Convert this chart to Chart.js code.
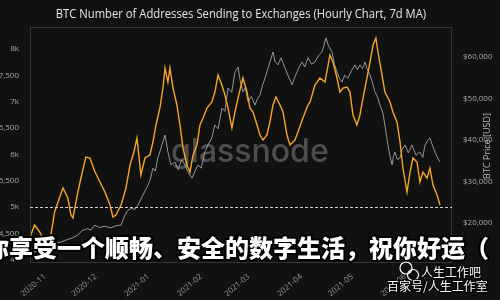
<!DOCTYPE html>
<html>
<head>
<meta charset="utf-8">
<script src="https://cdn.jsdelivr.net/npm/chart.js@4.4.1/dist/chart.umd.min.js"></script>
<style>
  html, body { margin: 0; padding: 0; background: #111; }
  #chart { display: block; }
</style>
</head>
<body>
<canvas id="chart" width="500" height="300"></canvas>
<script>
// x values are days counted from 2020-11-01
const monthDays = [0, 30, 61, 92, 120, 151, 181, 212];
const monthLabels = ['2020-11', '2020-12', '2021-01', '2021-02', '2021-03', '2021-04', '2021-05', '2021-06'];

// Number of addresses sending to exchanges (7d MA)
const addrDays = [-9.0, -6.1, -3.1, -0.6, 1.8, 3.5, 5.7, 7.7, 10.6, 13.5, 15.3, 16.5, 19.4, 21.2, 24.1, 26.5,
  29.5, 32.4, 35.3, 38.3, 40.0, 41.8, 44.8, 47.7, 50.1, 52.4, 54.2, 56.5, 58.9, 61.8, 63.6, 65.4, 67.7, 69.5,
  70.7, 72.4, 73.6, 75.4, 77.7, 79.5, 81.3, 83.6, 85.4, 87.2, 89.5, 91.3, 93.1, 95.4, 98.3, 100.1, 101.9,
  104.2, 106.0, 107.8, 110.1, 111.9, 113.7, 116.6, 119.0, 120.7, 122.5, 124.9, 126.6, 128.4, 130.7, 132.5,
  134.3, 136.0, 138.4, 140.2, 142.5, 144.3, 147.2, 149.0, 151.9, 154.9, 156.1, 159.0, 161.9, 164.9, 167.8,
  169.6, 172.0, 173.7, 175.5, 177.9, 179.6, 181.4, 183.7, 185.5, 187.3, 189.6, 191.4, 193.2, 194.9, 196.1,
  198.5, 200.2, 203.2, 204.9, 207.3, 209.1, 210.8, 213.2, 215.0, 216.7, 219.1, 220.8, 222.6, 225.0, 226.7,
  228.5, 230.9, 232.6];
const addrValues = [4411, 4658, 4525, 4373, 4278, 4468, 4905, 5095, 5360, 5170, 4848, 4791, 5284, 5550, 5949, 5930,
  5664, 5474, 5284, 5038, 4810, 4848, 5038, 5360, 5797, 6044, 6310, 5607, 5930, 5987, 6234, 6557, 6880, 7259,
  7639, 7373, 7639, 7259, 6937, 6557, 6120, 5797, 5664, 5987, 6177, 6557, 6690, 6880, 6994, 7183, 7506,
  7316, 7126, 6880, 6500, 6804, 7070, 7449, 7183, 6880, 6804, 6557, 6367, 6272, 6367, 6614,
  6937, 7088, 6937, 6804, 6367, 6177, 6272, 6424, 6690, 6937, 6994, 7316, 7449, 7373, 7886,
  7753, 7449, 7183, 7259, 7278, 7183, 6747, 6557, 6747, 7070, 7449, 7753, 8076, 8209, 7943,
  7506, 7183, 6994, 6804, 6614, 6234, 5740, 5284, 5664, 5930, 5854, 5474, 5664, 5550, 5740,
  5417, 5227, 5038];

// BTC price in USD
const priceDays = [-10.0, -7.0, -4.0, -1.5, 0, 3.0, 6.0, 9.4, 12.5, 16.0, 19.4, 22.0, 25.0, 27.0, 29.4, 32.0,
  35.0, 38.9, 41.5, 44.8, 47.1, 48.9, 51.0, 53.0, 54.8, 57.7, 60.7, 62.0, 63.6, 65.0, 66.5, 68.3, 70.7, 72.4,
  74.2, 76.6, 78.5, 80.5, 82.4, 84.5, 86.6, 88.5, 90.1, 92.0, 94.2, 96.0, 98.0, 100.1, 102.0, 104.2, 106.0,
  107.8, 110.0, 111.9, 113.7, 115.0, 116.6, 118.0, 119.6, 121.5, 123.7, 125.0, 126.6, 128.0, 129.6, 131.0,
  132.5, 134.3, 135.5, 137.2, 139.0, 141.3, 143.5, 145.5, 147.0, 148.4, 150.0, 151.4, 153.0, 154.9, 157.0,
  159.0, 161.0, 163.1, 164.5, 165.5, 167.0, 169.0, 170.5, 172.0, 173.5, 174.9, 176.5, 178.4, 180.5, 182.6,
  184.0, 185.5, 187.0, 188.5, 190.0, 191.4, 193.0, 194.3, 196.0, 197.3, 199.0, 200.2, 201.2, 202.0, 203.0,
  204.4, 205.2, 206.1, 207.5, 209.1, 210.5, 212.0, 214.0, 216.1, 218.5, 220.8, 222.5, 223.8, 225.5, 226.7,
  228.0, 229.7, 231.0, 232.6];
const priceValues = [13000, 13200, 13050, 13600, 13970, 14400, 15200, 15400, 15900, 16400, 17100, 18200, 18600, 18300, 19500, 18900,
  19200, 18800, 19300, 19500, 21900, 23100, 23500, 23300, 24300, 26700, 29100, 30500, 33200, 32500, 35700, 38000, 41200, 37100,
  34000, 34700, 32800, 35300, 34000, 32100, 30800, 32600, 34000, 33200, 37100, 38800, 40200, 43600, 42700, 47700, 46900,
  52500, 51500, 56400, 57600, 54200, 51600, 52600, 49200, 50500, 48400, 49800, 50800, 53000, 54900, 56800,
  58800, 61200, 58900, 58100, 59800, 57400, 55200, 53300, 55000, 56400, 57800, 58800, 57600, 59800, 58300,
  58800, 60300, 61200, 63100, 64600, 62600, 61200, 58200, 56400, 54800, 54000, 55600, 54900, 56700, 58100,
  57000, 58100, 57200, 58800, 56800, 55700, 53600, 51600, 50200, 48400, 46500, 43600, 40800, 38800, 36500,
  34000, 36000, 37100, 35300, 35700, 37800, 38800, 36900, 38800, 36300, 37100, 35800, 38800, 39900, 40500,
  38900, 37100, 35900, 34700];

const leftTicks = [4000, 4500, 5000, 5500, 6000, 6500, 7000, 7500, 8000];
const leftTickLabels = ['4k', '4,500', '5k', '5,500', '6k', '6,500', '7k', '7,500', '8k'];
const rightTicks = [20000, 30000, 40000, 50000, 60000];
const rightTickLabels = ['$20,000', '$30,000', '$40,000', '$50,000', '$60,000'];
const thresholdValue = 5000;

const titleText = 'BTC Number of Addresses Sending to Exchanges (Hourly Chart, 7d MA)';
const priceAxisTitle = 'BTC Price [USD]';
const overlayText = '你享受一个顺畅、安全的数字生活，祝你好运（';

// fond sombre
const backgroundPlugin = {
  id: 'background',
  beforeDraw(chart) {
    const ctx = chart.ctx;
    ctx.save();
    ctx.fillStyle = '#111111';
    ctx.fillRect(0, 0, chart.width, chart.height);
    ctx.restore();
  }
};

// watermark behind the lines
const watermarkPlugin = {
  id: 'watermark',
  beforeDatasetsDraw(chart) {
    const ctx = chart.ctx;
    ctx.save();
    ctx.fillStyle = 'rgba(120,120,120,0.6)';
    ctx.font = '500 32px Inter';
    ctx.textAlign = 'left';
    ctx.textBaseline = 'alphabetic';
    ctx.fillText('glassnode', 171, 162);
    ctx.restore();
  }
};

// frame, dashed level line, titles and overlays
const overlayPlugin = {
  id: 'overlay',
  afterDatasetsDraw(chart) {
    const ctx = chart.ctx;
    const a = chart.chartArea;
    ctx.save();
    ctx.strokeStyle = '#333';
    ctx.lineWidth = 1;
    ctx.strokeRect(a.left + 0.5, a.top + 0.5, a.right - a.left - 1, a.bottom - a.top - 1);

    const yLine = Math.round(chart.scales.y.getPixelForValue(thresholdValue)) + 0.5;
    ctx.strokeStyle = '#d0d0d0';
    ctx.setLineDash([3, 2]);
    ctx.beginPath();
    ctx.moveTo(a.left, yLine);
    ctx.lineTo(a.right, yLine);
    ctx.stroke();
    ctx.restore();
  },
  afterDraw(chart) {
    const ctx = chart.ctx;
    const a = chart.chartArea;
    ctx.save();

    // titre (a bit narrower, like the reference)
    ctx.save();
    ctx.translate((a.left + a.right) / 2, 14);
    ctx.scale(0.9, 1);
    ctx.fillStyle = '#e6e6e6';
    ctx.font = '12.5px "Open Sans"';
    ctx.textAlign = 'center';
    ctx.textBaseline = 'middle';
    ctx.fillText(titleText, 0, 0);
    ctx.restore();

    // right axis title, reading upwards
    ctx.save();
    ctx.translate(487, 146);
    ctx.rotate(-Math.PI / 2);
    ctx.fillStyle = '#bbbbbb';
    ctx.font = '9px "Open Sans"';
    ctx.textAlign = 'center';
    ctx.textBaseline = 'middle';
    ctx.fillText(priceAxisTitle, 0, 0);
    ctx.restore();

    // Chinese caption across the bottom
    ctx.font = '900 24px "Noto Sans CJK SC"';
    ctx.textAlign = 'left';
    ctx.textBaseline = 'middle';
    ctx.lineJoin = 'round';
    ctx.lineWidth = 4;
    ctx.strokeStyle = '#000';
    ctx.strokeText(overlayText, -15, 248);
    ctx.fillStyle = '#ffffff';
    ctx.fillText(overlayText, -15, 248);

    // logo bottom right
    ctx.strokeStyle = '#ffffff';
    ctx.lineWidth = 1.2;
    ctx.beginPath();
    ctx.arc(406, 268, 6, 0, Math.PI * 2);
    ctx.stroke();
    ctx.beginPath();
    ctx.arc(413, 275, 5.5, 0, Math.PI * 2);
    ctx.stroke();

    ctx.font = '12px "Noto Sans CJK SC"';
    ctx.lineWidth = 2.5;
    ctx.strokeStyle = 'rgba(0,0,0,0.8)';
    ctx.fillStyle = '#ffffff';
    ctx.strokeText('人生工作吧', 421, 272);
    ctx.fillText('人生工作吧', 421, 272);
    ctx.strokeText('百家号/人生工作室', 387, 286);
    ctx.fillText('百家号/人生工作室', 387, 286);
    ctx.restore();
  }
};

const ctx = document.getElementById('chart').getContext('2d');
const chart = new Chart(ctx, {
  type: 'line',
  data: {
    datasets: [
      {
        label: 'Addresses sending to exchanges',
        data: addrDays.map((d, i) => ({ x: d, y: addrValues[i] })),
        borderColor: '#f5a623',
        borderWidth: 1.4,
        pointRadius: 0,
        tension: 0,
        yAxisID: 'y'
      },
      {
        label: 'BTC Price',
        data: priceDays.map((d, i) => ({ x: d, y: priceValues[i] })),
        borderColor: 'rgba(170,170,175,0.85)',
        borderWidth: 1,
        pointRadius: 0,
        tension: 0,
        yAxisID: 'y1'
      }
    ]
  },
  options: {
    responsive: false,
    animation: false,
    layout: { padding: { top: 27, left: 0, right: 0, bottom: 0 } },
    plugins: {
      legend: { display: false },
      tooltip: { enabled: false },
      title: { display: false }
    },
    scales: {
      x: {
        type: 'linear',
        min: -8.8,
        max: 239.7,
        grid: { display: false },
        border: { display: false },
        afterBuildTicks: (scale) => { scale.ticks = monthDays.map(v => ({ value: v })); },
        afterFit: (scale) => { scale.height = 37; },
        ticks: {
          color: '#9a9a9a',
          font: { family: 'Open Sans', size: 8 },
          padding: 1,
          maxRotation: 40,
          minRotation: 40,
          autoSkip: false,
          callback: (value) => monthLabels[monthDays.indexOf(value)]
        }
      },
      y: {
        position: 'left',
        min: 3936,
        max: 8418,
        grid: { display: false },
        border: { display: false },
        afterBuildTicks: (scale) => { scale.ticks = leftTicks.map(v => ({ value: v })); },
        afterFit: (scale) => { scale.width = 30; },
        ticks: {
          color: '#a8a8a8',
          font: { family: 'Open Sans', size: 8 },
          padding: 3,
          callback: (value) => leftTickLabels[leftTicks.indexOf(value)]
        }
      },
      y1: {
        position: 'right',
        min: 10354,
        max: 67230,
        grid: { display: false },
        border: { display: false },
        afterBuildTicks: (scale) => { scale.ticks = rightTicks.map(v => ({ value: v })); },
        afterFit: (scale) => { scale.width = 48; },
        ticks: {
          color: '#a8a8a8',
          font: { family: 'Open Sans', size: 8 },
          padding: 3,
          callback: (value) => rightTickLabels[rightTicks.indexOf(value)]
        }
      }
    }
  },
  plugins: [backgroundPlugin, watermarkPlugin, overlayPlugin]
});
</script>
</body>
</html>
